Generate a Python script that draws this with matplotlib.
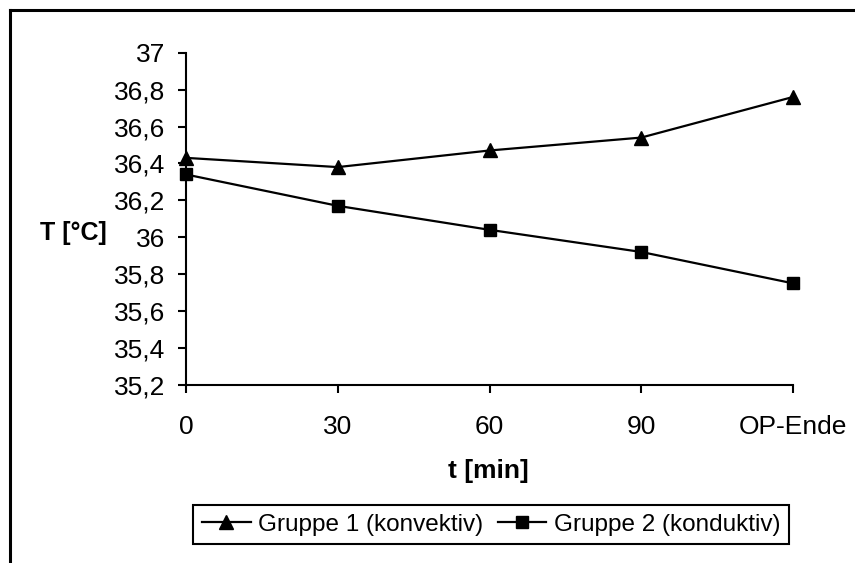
import matplotlib
matplotlib.use("Agg")
import matplotlib.pyplot as plt
from matplotlib.lines import Line2D
from matplotlib.ticker import FuncFormatter

plt.rcParams['font.family'] = ['Liberation Sans', 'DejaVu Sans']

categories = ["0", "30", "60", "90", "OP-Ende"]
gruppe1 = [36.43, 36.38, 36.47, 36.54, 36.76]
gruppe2 = [36.34, 36.17, 36.04, 35.92, 35.75]
yticks = [35.2, 35.4, 35.6, 35.8, 36.0, 36.2, 36.4, 36.6, 36.8, 37.0]

fig = plt.figure(figsize=(8.55, 5.63), dpi=100)
ax = fig.add_axes([186 / 855, 1 - 384.8 / 563, (793 - 186) / 855, (384.8 - 52.7) / 563])

x = list(range(len(categories)))
ax.plot(x, gruppe1, color="black", lw=1.6, marker="^", markersize=10,
        label="Gruppe 1 (konvektiv)", clip_on=False, zorder=3)
ax.plot(x, gruppe2, color="black", lw=1.6, marker="s", markersize=8.5,
        label="Gruppe 2 (konduktiv)", clip_on=False, zorder=3)

ax.set_xlim(0, len(categories) - 1)
ax.set_ylim(35.2, 37.0)
ax.set_xticks(x)
ax.set_xticklabels(categories)
ax.set_yticks(yticks)


def komma(v, pos):
    s = "%.1f" % v
    if s.endswith(".0"):
        s = s[:-2]
    return s.replace(".", ",")


ax.yaxis.set_major_formatter(FuncFormatter(komma))

for side in ["top", "right"]:
    ax.spines[side].set_visible(False)
for side in ["left", "bottom"]:
    ax.spines[side].set_linewidth(1.5)
ax.tick_params(axis="both", direction="out", length=6, width=1.5, labelsize=19)
ax.tick_params(axis="y", pad=9)
ax.tick_params(axis="x", pad=16)

fig.text(73 / 855, 1 - 233 / 563, "T [°C]", fontsize=18, fontweight="bold",
         ha="center", va="center")
fig.text(488 / 855, 1 - 471 / 563, "t [min]", fontsize=19, fontweight="bold",
         ha="center", va="center")

leg = fig.legend(loc="center", bbox_to_anchor=(491 / 855, 1 - 524.5 / 563),
                 ncol=2, fontsize=17.5, frameon=True, fancybox=False,
                 edgecolor="black", framealpha=1, handlelength=2.0,
                 handletextpad=0.3, columnspacing=0.6, borderpad=0.35)
leg.get_frame().set_linewidth(1.5)

# outer chart border (cut off on right and bottom)
fig.add_artist(Line2D([9.5 / 855, 1], [1 - 10.3 / 563, 1 - 10.3 / 563],
                      transform=fig.transFigure, color="black", lw=2.2))
fig.add_artist(Line2D([9.5 / 855, 9.5 / 855], [0, 1 - 10.3 / 563],
                      transform=fig.transFigure, color="black", lw=2.2))

fig.savefig("out.png", dpi=100)
